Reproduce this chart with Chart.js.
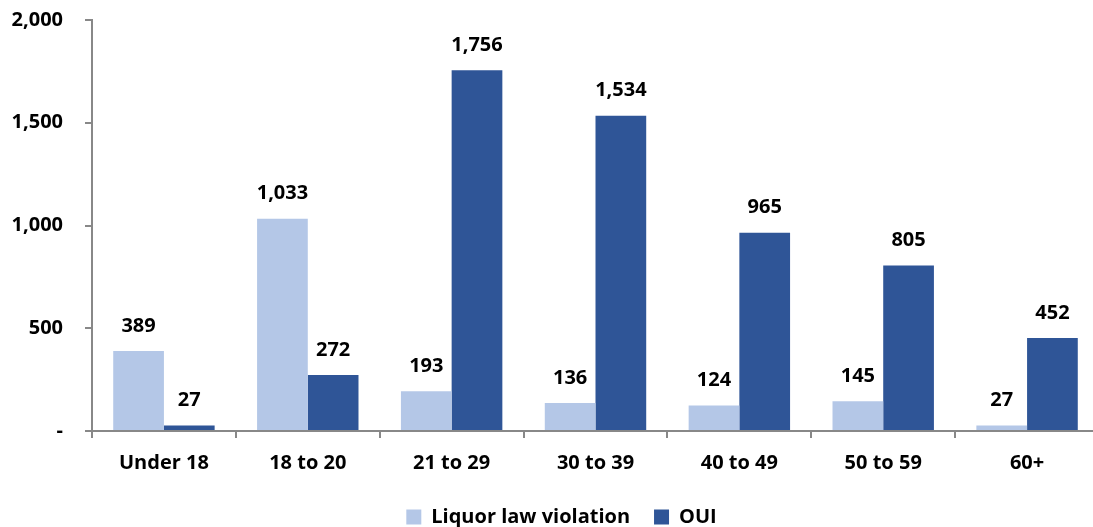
<!DOCTYPE html>
<html>
<head>
<meta charset="utf-8">
<script src="https://cdn.jsdelivr.net/npm/chart.js@4.4.0/dist/chart.umd.min.js"></script>
<style>
  html, body { margin: 0; padding: 0; background: #fff; overflow: hidden; }
  #wrap { width: 1110px; height: 527px; }
</style>
</head>
<body>
<div id="wrap"><canvas id="chartBar"></canvas></div>
<script>
// data
const ageGroups = ["Under 18", "18 to 20", "21 to 29", "30 to 39", "40 to 49", "50 to 59", "60+"];
const liquorLaw = [389, 1033, 193, 136, 124, 145, 27];
const oui = [27, 272, 1756, 1534, 965, 805, 452];
const yTicks = [0, 500, 1000, 1500, 2000];

const fmt = (v) => v === 0 ? "-" : v.toLocaleString("en-US");
const font = { family: "'Open Sans'", weight: "bold", size: 20 };

// value labels above bars
const barLabels = {
  id: "barLabels",
  afterLayout(chart) {
    // nudge the legend a little right, like the original
    chart.legend.left += 12;
    chart.legend.right += 12;
  },
  afterDatasetsDraw(chart) {
    const ctx = chart.ctx;
    ctx.save();
    ctx.font = "bold 20px 'Open Sans'";
    ctx.fillStyle = "#000";
    ctx.textAlign = "center";
    ctx.textBaseline = "middle";
    chart.data.datasets.forEach((ds, i) => {
      chart.getDatasetMeta(i).data.forEach((bar, j) => {
        ctx.fillText(fmt(ds.data[j]), bar.x, bar.y - 25);
      });
    });
    ctx.restore();
  }
};

const dataBarChart = {
  labels: ageGroups,
  datasets: [
    {
      label: "Liquor law violation",
      backgroundColor: "#B4C7E7",
      data: liquorLaw,
    },
    {
      label: "OUI",
      backgroundColor: "#2F5597",
      data: oui,
    },
  ],
};

const configBarChart = {
  type: "bar",
  data: dataBarChart,
  plugins: [barLabels],
  options: {
    responsive: true,
    maintainAspectRatio: false,
    animation: false,
    layout: { padding: { top: 0, left: 0, right: 11, bottom: -10 } },
    datasets: { bar: { categoryPercentage: 0.705, barPercentage: 1 } },
    plugins: {
      tooltip: { enabled: false },
      legend: {
        position: "bottom",
        labels: {
          font: font,
          color: "#000",
          boxWidth: 15,
          boxHeight: 15,
          padding: 24,
        }
      }
    },
    scales: {
      x: {
        grid: { drawOnChartArea: false, color: "#888", tickLength: 7, lineWidth: 2 },
        border: { color: "#888", width: 2 },
        ticks: { font: font, color: "#000", padding: 13 },
        afterFit: (s) => { s.height = 52; }
      },
      y: {
        min: 0,
        max: 2000,
        afterBuildTicks: (s) => { s.ticks = yTicks.map(v => ({ value: v })); },
        grid: { drawOnChartArea: false, color: "#888", tickLength: 7, lineWidth: 2 },
        border: { color: "#888", width: 2 },
        ticks: { font: font, color: "#000", padding: 22, callback: (v) => fmt(v) },
        afterFit: (s) => { s.width = 92; s.paddingTop = 20; s.paddingBottom = 0; }
      }
    }
  }
};

var chartBar = new Chart(document.getElementById("chartBar"), configBarChart);
</script>
</body>
</html>
